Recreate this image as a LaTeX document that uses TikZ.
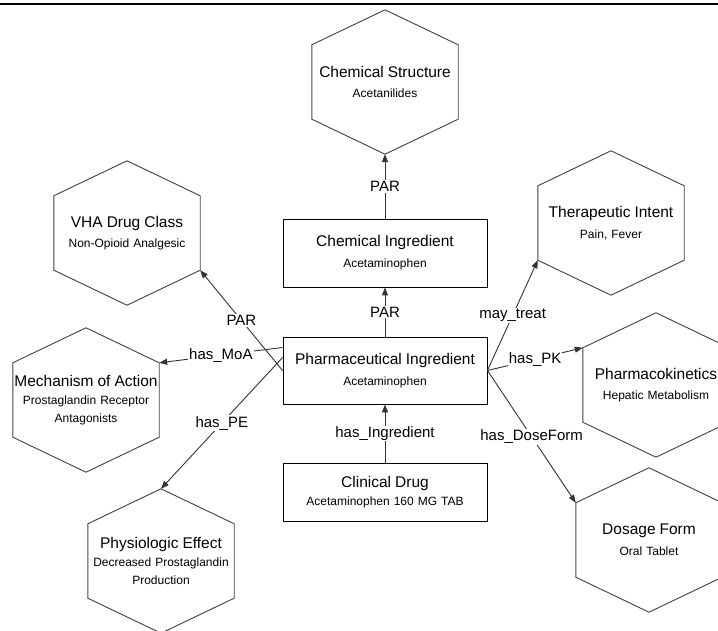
\documentclass[tikz,border=0pt]{standalone}
\usepackage{fontspec}
\setmainfont{Liberation Sans}
\usetikzlibrary{arrows.meta}

\newcommand{\ttl}[1]{{\fontsize{15.5}{18}\selectfont #1}}

\begin{document}
\begin{tikzpicture}[
  x=1pt, y=-1pt,
  font=\fontsize{12}{18}\selectfont,
  box/.style={draw=black, line width=0.9pt, text width=204pt, align=center,
              inner sep=0pt},
  hexa/.style={text width=146pt, minimum height=144pt, align=center, inner sep=0pt},
  hexline/.style={draw=black!75, line width=0.9pt},
  e/.style={draw=black!80, line width=0.9pt, -{Triangle[length=8pt,width=6pt]}},
  lbl/.style={fill=white, inner sep=1pt, font=\fontsize{15}{18}\selectfont}
]
\useasboundingbox (0,0) rectangle (718,631);
\clip (0,0) rectangle (718,631);

% rule on top
\draw[line width=2.5pt] (0,4) -- (718,4);

% ingredient and drug boxes
\node[box, minimum height=68pt] (ci) at (385,253)   {\ttl{Chemical Ingredient}\\[3pt] Acetaminophen};
\node[box, minimum height=67pt] (pi) at (385,370.5) {\ttl{Pharmaceutical Ingredient}\\[3pt] Acetaminophen};
\node[box, minimum height=58pt] (cd) at (385,492)   {\ttl{Clinical Drug}\\ Acetaminophen 160 MG TAB};

% hexagons
\node[hexa] (cs)  at (385,82)  {\ttl{Chemical Structure}\\[2pt] Acetanilides};
\node[hexa] (vha) at (127,233) {\ttl{VHA Drug Class}\\[2pt] Non-Opioid Analgesic};
\node[hexa] (moa) at (86,400)  {\ttl{Mechanism of Action}\\ Prostaglandin Receptor\\ Antagonists};
\node[hexa] (pe)  at (161,561) {\ttl{Physiologic Effect}\\ Decreased Prostaglandin\\ Production};
\node[hexa] (ti)  at (611,223) {\ttl{Therapeutic Intent}\\[3pt] Pain, Fever};
\node[hexa] (pk)  at (656,385) {\ttl{Pharmacokinetics}\\[2pt] Hepatic Metabolism};
\node[hexa] (df)  at (649,540) {\ttl{Dosage Form}\\[3pt] Oral Tablet};

\foreach \h in {cs,vha,moa,pe,ti,pk,df}
  \draw[hexline] (\h.north) -- ([yshift=-35pt]\h.north east) -- ([yshift=35pt]\h.south east)
    -- (\h.south) -- ([yshift=35pt]\h.south west) -- ([yshift=-35pt]\h.north west) -- cycle;

% vertical chain
\draw[e] (ci.north) -- node[lbl] {PAR} (cs.south);
\draw[e] (pi.north) -- node[lbl] {PAR} (ci.south);
\draw[e] (cd.north) -- node[lbl] {has\_Ingredient} (pi.south);

% left side
\draw[e] (pi.west) -- node[lbl] {PAR} ([yshift=35pt]vha.south east);
\draw[e] ([yshift=23pt]pi.west) -- node[lbl] {has\_MoA} ([yshift=-35pt]moa.north east);
\draw[e] ([yshift=13pt]pi.west) -- node[lbl] {has\_PE} (pe.north);

% right side
\draw[e] (pi.east) -- node[lbl] {may\_treat} ([yshift=35pt]ti.south west);
\draw[e] (pi.east) -- node[lbl] {has\_PK} ([yshift=-35pt]pk.north west);
\draw[e] (pi.east) -- node[lbl] {has\_DoseForm} ([yshift=-35pt]df.north west);
\end{tikzpicture}
\end{document}
